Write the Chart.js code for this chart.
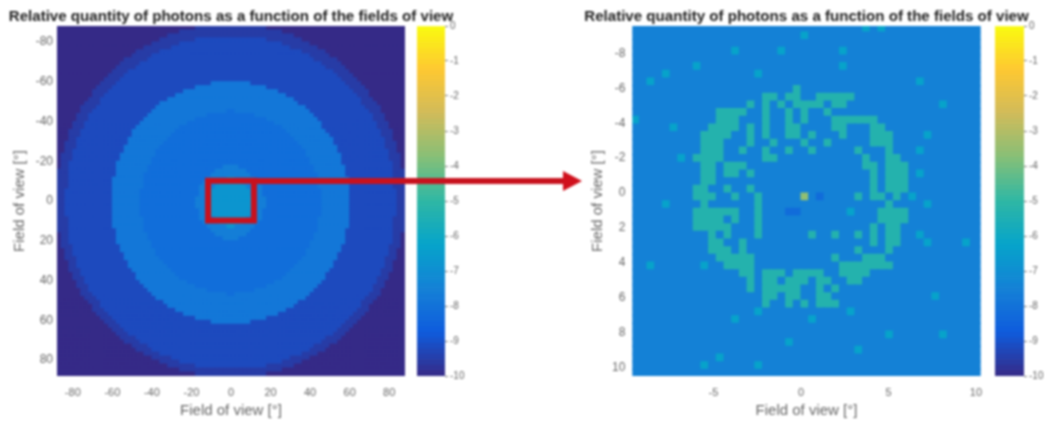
<!DOCTYPE html>
<html>
<head>
<meta charset="utf-8">
<title>Relative quantity of photons</title>
<script src="https://cdn.jsdelivr.net/npm/chart.js@4/dist/chart.umd.min.js"></script>
<style>
  html, body { margin:0; padding:0; background:#fff; }
  #page { position:relative; width:1045px; height:421px; overflow:hidden; filter:blur(0.9px); }
  canvas, svg { position:absolute; top:0; }
</style>
</head>
<body>
<div id="page">
  <canvas id="wideMap" width="462" height="421" style="left:0"></canvas>
  <canvas id="wideBar" width="58" height="421" style="left:417px"></canvas>
  <canvas id="zoomMap" width="463" height="421" style="left:575px"></canvas>
  <canvas id="zoomBar" width="50" height="421" style="left:995px"></canvas>
  <svg width="1045" height="421" style="left:0">
    <rect x="254" y="178" width="311" height="6" fill="#c8121e"></rect>
    <polygon points="563,171 582,181 563,191" fill="#d0101c"></polygon>
  </svg>
</div>

<script>
//Labels
const chartTitle = 'Relative quantity of photons as a function of the fields of view';
const axisLabel = 'Field of view [°]';

//Colormap stops (parula), low to high
const parula = ['#352A87','#0F5CDD','#1481D6','#06A4CA','#2EB7A4','#87BF77','#D1BB59','#FEC832','#F9FB0E'];

//Left map: 2 degree rows, half widths of each zone
const wideRows = [-87,-85,-83,-81,-79,-77,-75,-73,-71,-69,-67,-65,-63,-61,-59,-57,-55,-53,-51,-49,-47,-45,-43,-41,-39,-37,-35,-33,-31,-29,-27,-25,-23,-21,-19,-17,-15,-13,-11,-9,-7,-5,-3,-1,
  1,3,5,7,9,11,13,15,17,19,21,23,25,27,29,31,33,35,37,39,41,43,45,47,49,51,53,55,57,59,61,63,65,67,69,71,73,75,77,79,81,83,85,87];
const fringeHalf = [19,26,32,37,41,45,48,51,54,56,59,61,63,65,67,68,70,71,73,74,76,77,78,79,80,81,82,83,83,84,85,85,86,86,87,87,88,88,88,89,89,89,89,89,
  89,89,89,89,89,88,88,88,87,87,86,86,85,85,84,83,83,82,81,80,79,78,77,76,74,73,71,70,68,67,65,63,61,59,56,54,51,48,45,41,37,32,26,19];
const outerHalf = [0,0,0,18,26,31,36,40,43,46,49,52,54,57,59,61,63,64,66,67,69,70,72,73,74,75,76,77,78,78,79,80,80,81,82,82,82,83,83,83,83,84,84,84,
  84,84,84,84,83,83,83,83,82,82,82,81,80,80,79,78,78,77,76,75,74,73,72,70,69,67,66,64,63,61,59,57,54,52,49,46,43,40,36,31,26,18,0,0];
const innerLeft = [0,0,0,0,0,0,0,0,0,0,0,0,0,0,11,19,25,29,33,36,38,41,43,45,47,48,50,51,52,53,54,55,56,57,58,58,59,59,60,60,60,61,61,61,
  61,61,61,61,60,60,60,59,59,58,58,57,56,55,54,53,52,51,49,48,46,44,42,40,38,35,32,28,24,19,11,0,0,0,0,0,0,0,0,0,0,0,0,0];
const innerRight = [0,0,0,0,0,0,0,0,0,0,0,0,0,0,11,18,24,28,32,35,38,40,42,44,46,47,49,50,52,53,54,55,56,57,57,58,59,59,60,60,60,61,61,61,
  61,61,61,61,61,60,60,59,59,58,58,57,56,55,54,53,52,51,49,48,46,44,42,40,38,35,32,28,24,19,11,0,0,0,0,0,0,0,0,0,0,0,0,0];
const midRows = [-45,-43,-41,-39,-37,-35,-33,-31,-29,-27,-25,-23,-21,-19,-17,-15,-13,-11,-9,-7,-5,-3,-1,1,3,5,7,9,11,13,15,17,19,21,23,25,27,29,31,33,35,37,39,41,43,45,47];
const midHalf = [3,13,19,23,26,29,31,33,35,37,38,39,40,41,42,43,44,44,45,45,46,46,46,46,46,46,46,45,45,44,44,43,42,41,40,39,38,37,35,33,31,29,26,23,19,13,3];
const haloRows = [-17,-15,-13,-11,-9,-7,-5,-3,-1,1,3,5,7,9,11,13,15,17,19];
const haloHalf = [4,8,11,13,15,16,17,17,18,18,18,17,17,16,15,13,11,8,4];
const coreRows = [-11,-9,-7,-5,-3,-1,1,3,5,7,9,11,13];
const coreHalf = [3,7,9,10,11,12,12,12,11,10,9,7,3];

//Left map zone values (log10)
const cornerValue = -10;
const fringeValue = -9.55;
const outerValue = -9.2;
const rimValue = -7.85;
const midValue = -8.15;
const haloValue = -7.6;
const coreValue = -6.8;

//Red box on the left map
const boxX = [-11.6,11.6,11.6,-11.6,-11.6];
const boxY = [-10.2,-10.2,9.8,9.8,-10.2];

//Right map: 46 x 46 cells, each row lists the columns that are raised
const dimCols = [[30,32],[22],[],[13,19,27],[],[8,27],[4,16],[2,37],[],[],
  [40],[],[0],[5],[38],[],[37],[6],[],[37],
  [],[],[36],[4,38],[28],[],[],[37],[38,43],[],
  [],[2,9],[],[],[],[39],[],[16,28],[13,23],[],
  [33,40],[20],[29],[11],[9,16],[]];
const ringCols = [[],[],[],[],[],[],[],[],[21],[17,18,20,21,24,25,26,27,28],
  [15,17,19,21,22,23,24,26,27],[11,12,13,14,17,20,22,25],[11,12,13,17,20,22,26,27,28,29,30,31],[10,11,12,13,15,17,20,21,26,27,31,32],[9,10,11,12,15,17,20,21,23,27,31,32,33],[9,10,11,15,18,22,25,31,32,33],[9,10,11,14,17,20,23,29,33],[8,9,10,11,17,18,30,33,34],[9,10,12,13,14,30,31,33,34,35],[9,10,12,13,15,31,33,34,35],
  [9,10,31,33,34,35],[8,9,12,15,31,33,34,35],[8,9,10,13,16,29,31,32,34],[9,16,33],[8,9,10,11,12,13,16,32,33,34,35],[8,9,10,11,13,16,32,33,34,35],[8,9,10,11,12,16,31,33,34],[10,12,16,23,26,29,31,33,34],[10,11,14,31,33,34],[10,11,12,14,29,33],
  [11,12,13,14,15,26,30,31,32],[12,13,14,15,27,28,29,30,31,32,33],[14,15,17,18,19,21,22,23,24,27,28,29,30],[15,17,18,20,21,22,24,25,28,29],[15,17,18,19,20,21,24,26],[17,18,20,21,24,25],[17,20,22,24,25,26],[],[],[],
  [],[],[],[],[],[]];
const lowCells = [[24,22],[20,24],[21,24]];
const peakCell = [22,22];

//Right map values (log10)
const zoomBase = -7.5;
const zoomDim = -6.3;
const zoomRing = -5.3;
const zoomLow = -8.2;
const zoomPeak = -3.6;

//Axis limits and ticks
const wideLimit = [-88,88];
const zoomX = [-9.64,10.27];
const zoomY = [-9.58,10.5];
const zoomStart = -9.68;
const zoomCell = 0.44;
const wideCell = 2;
const barLevels = 64;

function valueColor(v){
  let t = Math.min(Math.max((v + 10) / 10, 0), 1) * (parula.length - 1);
  let i = Math.min(Math.floor(t), parula.length - 2);
  let a = parula[i], b = parula[i + 1], f = t - i, out = [];
  for (let k = 1; k < 7; k += 2){
    let c0 = parseInt(a.substr(k,2),16), c1 = parseInt(b.substr(k,2),16);
    out.push(Math.round(c0 + (c1 - c0) * f));
  }
  return 'rgb(' + out.join(',') + ')';
}

//Builds the left map cells
function wideCells(){
  let cells = [];
  wideRows.forEach(function(y, r){
    wideRows.forEach(function(x){
      let v = cornerValue;
      if (Math.abs(x) < fringeHalf[r]) v = fringeValue;
      if (Math.abs(x) < outerHalf[r]) v = outerValue;
      if (x > -innerLeft[r] && x < innerRight[r]) v = rimValue;
      let m = midRows.indexOf(y);
      if (m >= 0 && Math.abs(x) < midHalf[m]) v = midValue;
      let h = haloRows.indexOf(y);
      if (h >= 0 && Math.abs(x) < haloHalf[h]) v = haloValue;
      let c = coreRows.indexOf(y);
      if (c >= 0 && Math.abs(x) < coreHalf[c]) v = coreValue;
      cells.push({x:x, y:y, v:v});
    });
  });
  return cells;
}

//Builds the right map cells
function zoomCells(){
  let cells = [];
  for (let r = 0; r < ringCols.length; r++){
    for (let c = 0; c < ringCols.length; c++){
      let v = zoomBase;
      if (dimCols[r].indexOf(c) >= 0) v = zoomDim;
      if (ringCols[r].indexOf(c) >= 0) v = zoomRing;
      lowCells.forEach(function(l){ if (l[0] === c && l[1] === r) v = zoomLow; });
      if (peakCell[0] === c && peakCell[1] === r) v = zoomPeak;
      cells.push({x:zoomStart + (c + 0.5) * zoomCell, y:zoomStart + (r + 0.5) * zoomCell, v:v});
    }
  }
  return cells;
}

function axis(limits, step, pos, pad, titlePad, size){
  return {
    type:'linear', position:pos, min:limits[0], max:limits[1],
    reverse: pos === 'left',
    border:{display:false},
    grid:{display:false, drawTicks:false},
    ticks:{stepSize:step, includeBounds:false, autoSkip:false, maxRotation:0, padding:pad, color:'#666', font:{size:pos === 'left' ? 12 : 11}},
    title:{display:true, text:axisLabel, color:'#666', font:{size:15}, padding:titlePad},
    afterFit:function(scale){
      if (pos === 'left') scale.width = size; else scale.height = size;
    }
  };
}

function heatMap(id, cells, cellSize, extra, xAxis, yAxis, rightGap){
  let sets = [{
    data:cells,
    order:2,
    clip:0,
    pointStyle:'rect',
    pointBorderWidth:0,
    pointBackgroundColor:cells.map(function(p){ return valueColor(p.v); }),
    pointRadius:function(ctx){
      let s = ctx.chart.scales.x;
      return (Math.abs(s.getPixelForValue(cellSize) - s.getPixelForValue(0)) + 1) * Math.SQRT1_2;
    }
  }].concat(extra);
  return new Chart(document.getElementById(id).getContext('2d'), {
    type:'scatter',
    data:{datasets:sets},
    options:{
      responsive:false, animation:false, events:[],
      layout:{padding:0},
      plugins:{
        legend:{display:false}, tooltip:{enabled:false},
        title:{display:true, text:chartTitle, color:'#222', font:{size:15.1, weight:'bold', lineHeight:'14px'}, padding:{top:10, bottom:2}}
      },
      scales:{
        x:xAxis,
        y:yAxis,
        //Empty axis that keeps the room for the colorbar, title stays centred
        gap:{
          type:'linear', position:'right',
          border:{display:false}, grid:{display:false, drawTicks:false}, ticks:{display:false},
          afterFit:function(scale){ scale.width = rightGap; }
        }
      }
    }
  });
}

function colorBar(id, width){
  let step = 10 / barLevels, sets = [];
  for (let i = 0; i < barLevels; i++){
    let lo = -10 + i * step;
    sets.push({data:[[lo, lo + step]], backgroundColor:valueColor(lo + step / 2), grouped:false, barPercentage:1, categoryPercentage:1});
  }
  return new Chart(document.getElementById(id).getContext('2d'), {
    type:'bar',
    data:{labels:[''], datasets:sets},
    options:{
      responsive:false, animation:false, events:[],
      layout:{padding:{top:26, bottom:45}},
      plugins:{legend:{display:false}, tooltip:{enabled:false}},
      scales:{
        x:{display:false},
        y:{
          position:'right', min:-10, max:0,
          border:{display:false},
          grid:{display:true, drawOnChartArea:false, drawTicks:true, tickLength:3, tickColor:'#777'},
          ticks:{stepSize:1, padding:2, color:'#666', font:{size:10}},
          afterFit:function(scale){ scale.width = width; }
        }
      }
    }
  });
}

Chart.defaults.font.family = '"Liberation Sans", Arial, sans-serif';

let box = {
  data:boxX.map(function(x, i){ return {x:x, y:boxY[i]}; }),
  order:1, showLine:true, pointRadius:0,
  borderColor:'#c8121e', borderWidth:6, borderJoinStyle:'miter', borderCapStyle:'square'
};

heatMap('wideMap', wideCells(), wideCell, [box],
  axis(wideLimit, 20, 'bottom', 10, {top:0, bottom:1}, 45),
  axis(wideLimit, 20, 'left', 4, {top:11, bottom:0}, 57), 57);
heatMap('zoomMap', zoomCells(), zoomCell, [],
  axis(zoomX, 5, 'bottom', 10, {top:0, bottom:1}, 45),
  axis(zoomY, 2, 'left', 7, {top:14, bottom:0}, 57.3), 57.3);
colorBar('wideBar', 30);
colorBar('zoomBar', 21);
</script>
</body>
</html>
